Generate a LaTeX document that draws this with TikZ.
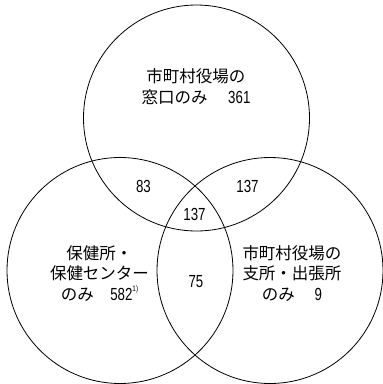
\documentclass[tikz,border=0pt]{standalone}
\usepackage{fontspec}
\usepackage{graphicx}
\setmainfont{Liberation Sans}
\newfontfamily\jp{Noto Sans CJK JP}
\newcommand{\cnum}[1]{\scalebox{0.76}[1]{\rmfamily\fontsize{17.5}{20.5}\selectfont #1}}
\newcommand{\cfoot}[1]{\scalebox{0.8}[1]{\rmfamily\fontsize{8}{8}\selectfont #1}}
\tikzset{
  set/.style={circle, draw=black, line width=0.8pt, minimum size=226pt, inner sep=0pt},
  lbl/.style={font=\jp\fontsize{16.5}{20.5}\selectfont, align=center, inner sep=0pt, text=black}
}
\begin{document}
\begin{tikzpicture}[x=1pt,y=-1pt]
\useasboundingbox (0,0) rectangle (383,384);
\node[set] (top) at (196.5,118) {};
\node[set] (left) at (120,270.5) {};
\node[set] (right) at (270,270.5) {};
\node[lbl] (ttop) at (196,86.5) {市町村役場の\\窓口のみ\hspace{1.25em}\cnum{361}};
\node[lbl] (tleft) at (99.5,273.5) {保健所・\\保健センター\\のみ\hspace{1em}\cnum{582}\raisebox{0.55em}{\cfoot{1)}}};
\node[lbl] (tright) at (292,273.5) {市町村役場の\\支所・出張所\\のみ\hspace{1.2em}\cnum{9}};
\node[lbl] (tlt) at (143.5,186.5) {\cnum{83}};
\node[lbl] (trt) at (247.5,186.5) {\cnum{137}};
\node[lbl] (tall) at (194.5,214) {\cnum{137}};
\node[lbl] (tlr) at (196,282) {\cnum{75}};
\end{tikzpicture}
\end{document}
